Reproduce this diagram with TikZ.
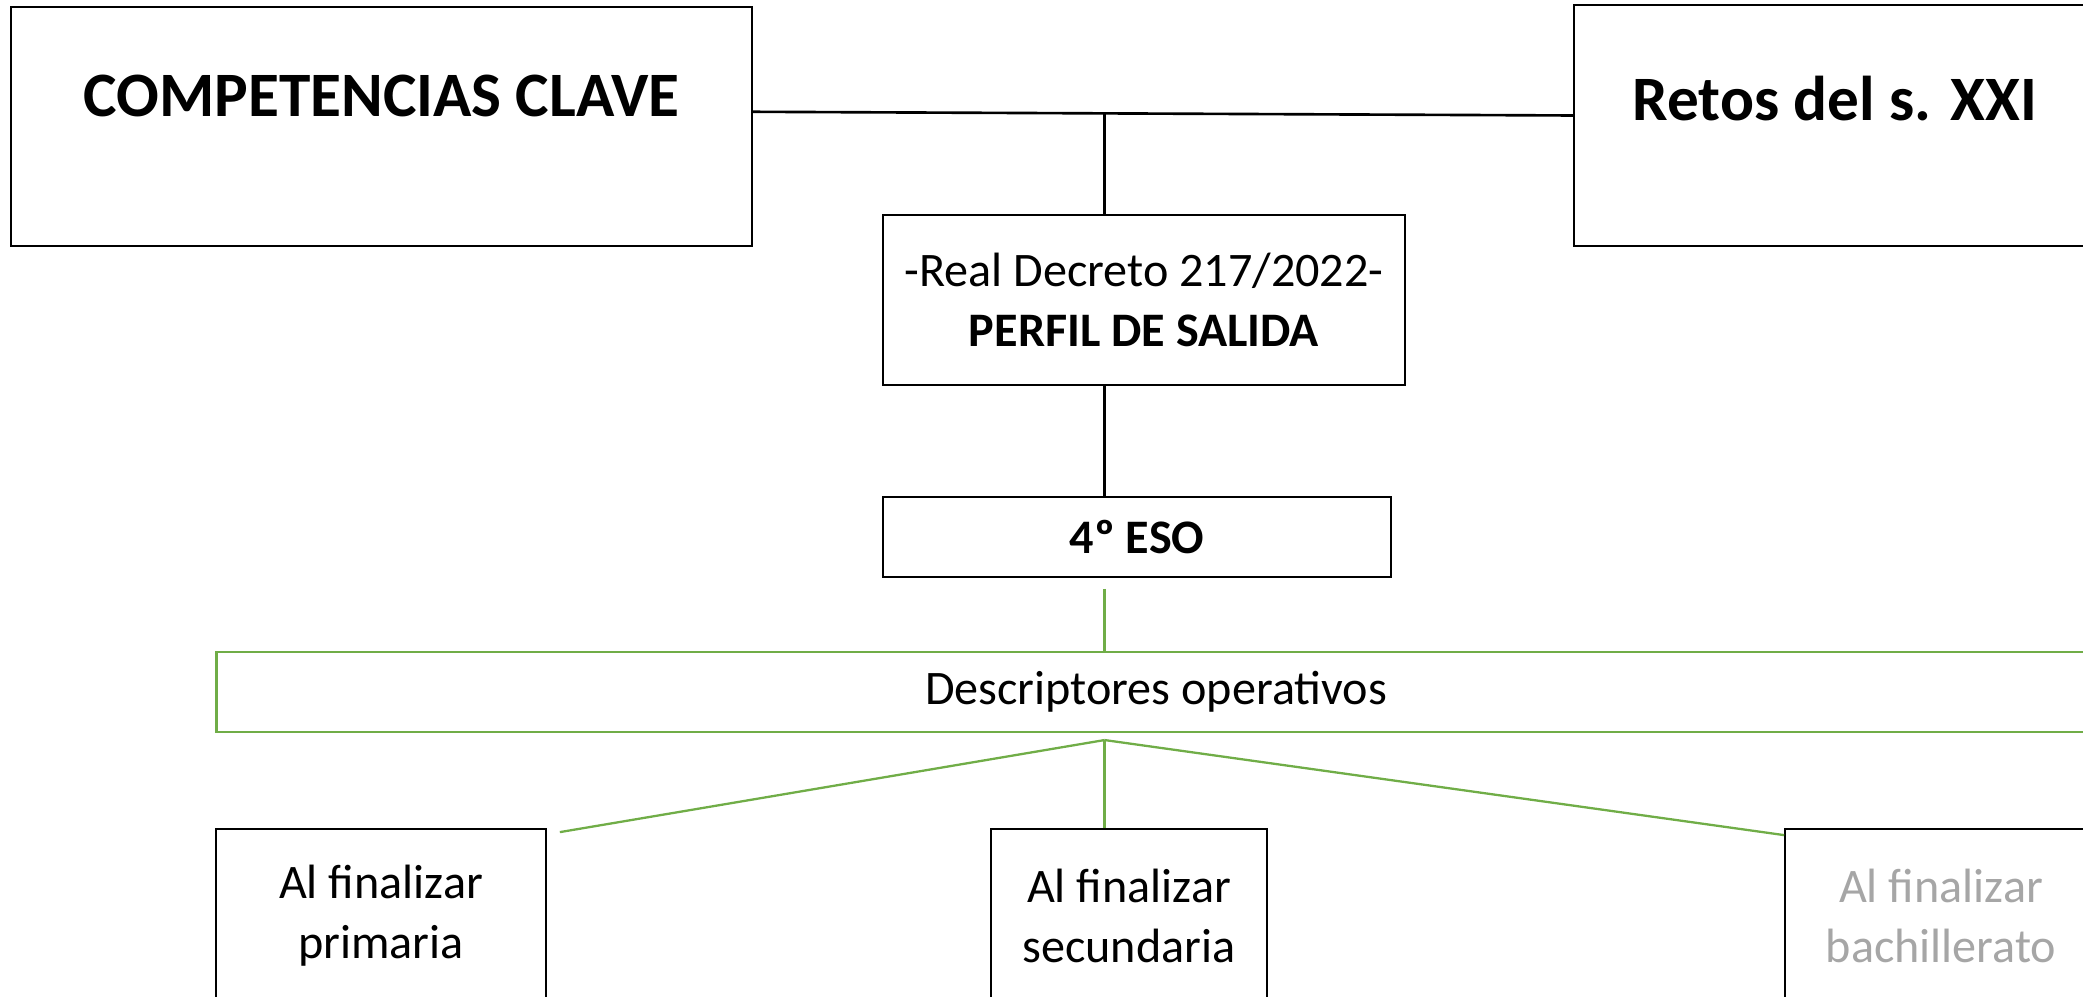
\documentclass[tikz,border=0pt]{standalone}
\usepackage{fontspec}
\setmainfont{Carlito}
\usepackage{tikz}
\usetikzlibrary{calc}
\usetikzlibrary{positioning}

\definecolor{mygreen}{RGB}{112,173,71}
\definecolor{mygray}{RGB}{166,166,166}

\begin{document}
\begin{tikzpicture}[
    mybox/.style={
        rectangle,
        draw=black,
        line width=1pt,
        inner sep=0pt,
        align=center,
        font=\fontsize{27.4}{34}\selectfont},
    titlebox/.style={
        mybox,
        inner ysep=0pt,
        font=\fontsize{36}{43}\selectfont\bfseries},
    greenbox/.style={
        mybox,
        draw=mygreen,
        line width=1.2pt},
    myline/.style={-,line width=1.5pt},
    greenline/.style={-,draw=mygreen,line width=1.3pt}
]

\useasboundingbox (0,0) rectangle (41.66,19.92);
\clip (0,0) rectangle (41.66,19.92);

% top row
\node[titlebox, minimum width=14.83cm, text height=2.2cm, text depth=2.58cm]
    (cc) at (7.63,17.39) {COMPETENCIAS CLAVE};
\node[titlebox, minimum width=10.44cm, text height=2.32cm, text depth=2.5cm]
    (retos) at (36.7,17.41) {Retos del s. XXI};

\node[mybox, minimum width=10.44cm, minimum height=3.4cm] (perfil) at (22.88,13.92)
    {-Real Decreto 217/2022-\\\textbf{PERFIL DE SALIDA}};
\node[mybox, minimum width=10.16cm, minimum height=1.6cm] (eso) at (22.74,9.18)
    {\textbf{4º ESO}};

\node[greenbox, minimum width=37.58cm, minimum height=1.6cm] (desc) at (23.12,6.08)
    {Descriptores operativos};

% bottom row
\node[mybox, minimum width=6.6cm, minimum height=3.48cm] (prim) at (7.62,1.6)
    {Al finalizar\\primaria};
\node[mybox, minimum width=5.52cm, minimum height=3.48cm] (sec) at (22.58,1.6)
    {Al finalizar\\secundaria};
\node[mybox, minimum width=6.24cm, minimum height=3.48cm, text=mygray] (bach) at (38.82,1.6)
    {Al finalizar\\bachillerato};

\coordinate (ccend) at ([yshift=0.294cm]cc.east);
\coordinate (retosend) at ([yshift=0.2cm]retos.west);
\coordinate (j) at ($(ccend)!0.4286!(retosend)$);
\coordinate (fan) at ([yshift=-0.14cm]j |- desc.south);

\draw[myline] (ccend) -- (retosend);
\draw[myline] (j) -- (j |- perfil.north);
\draw[myline] (j |- perfil.south) -- (j |- eso.north);

\draw[greenline] ([yshift=-0.22cm]j |- eso.south) -- (j |- desc.north);
\draw[greenline] (fan) -- ([shift={(0.26,-0.08)}]prim.north east);
\draw[greenline] (fan) -- (fan |- sec.north);
\draw[greenline] (fan) -- ([yshift=-0.14cm]bach.north west);

\end{tikzpicture}
\end{document}
